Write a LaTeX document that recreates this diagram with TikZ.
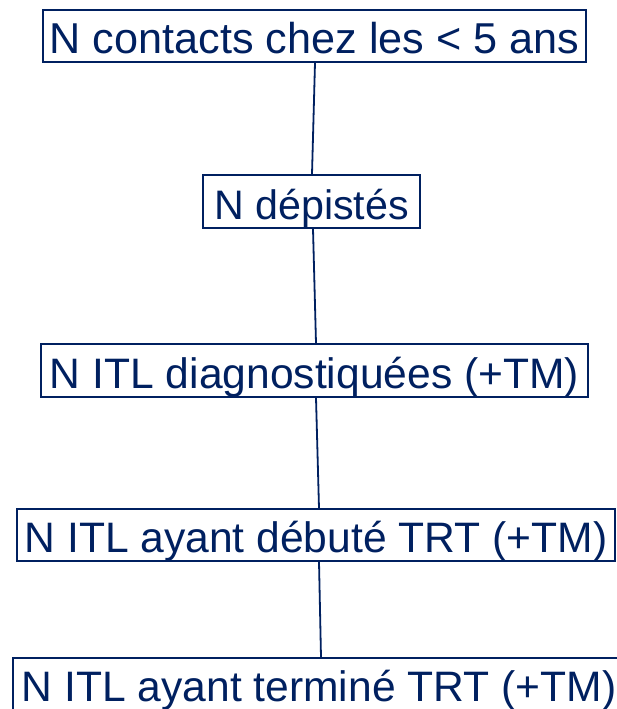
\documentclass[tikz,border=0pt]{standalone}
\usepackage{fontspec}
\setmainfont{Liberation Sans}
\definecolor{navy}{RGB}{0,32,96}
\begin{document}
\begin{tikzpicture}[x=1pt,y=-1pt,
  stepbox/.style={draw=navy, line width=1.6pt, text=navy, inner xsep=0pt, inner ysep=0pt,
    text height=35pt, text depth=0pt, font=\fontsize{42.6}{42.6}\selectfont},
  link/.style={draw=navy, line width=1.8pt}]
\clip (0,0) rectangle (617,709);
\useasboundingbox (0,0) rectangle (617,709);
\node[stepbox, minimum width=543pt, minimum height=52pt, font=\fontsize{43.2}{43.2}\selectfont] (b1) at (314.5,36) {N contacts chez les < 5 ans};
\node[stepbox, minimum width=217pt, minimum height=53pt, font=\fontsize{41.2}{41.2}\selectfont] (b2) at (311.5,201.5) {N dépistés};
\node[stepbox, minimum width=547pt, minimum height=53pt] (b3) at (314.5,370.5) {N ITL diagnostiquées (+TM)};
\node[stepbox, minimum width=598pt, minimum height=52pt] (b4) at (316,535) {N ITL ayant débuté TRT (+TM)};
\node[stepbox, minimum width=612pt, minimum height=52pt] (b5) at (319,684) {N ITL ayant terminé TRT (+TM)};
\draw[link] ([xshift=0.5pt]b1.south) -- ([xshift=0.5pt]b2.north);
\draw[link] ([xshift=1.5pt]b2.south) -- ([xshift=1.5pt]b3.north);
\draw[link] ([xshift=1.5pt]b3.south) -- ([xshift=3pt]b4.north);
\draw[link] ([xshift=3pt]b4.south) -- ([xshift=2pt]b5.north);
\end{tikzpicture}
\end{document}
